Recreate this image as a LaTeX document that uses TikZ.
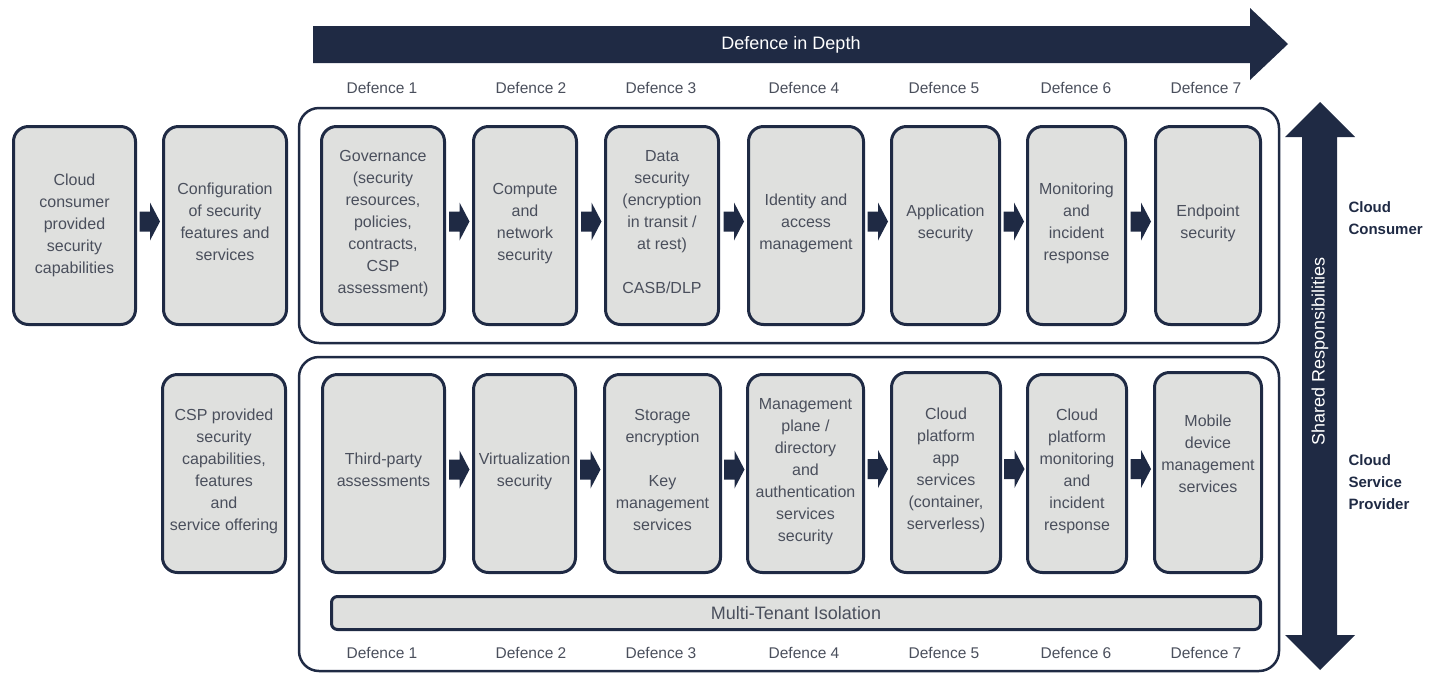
\documentclass[tikz,border=0pt]{standalone}
\usepackage{fontspec}
\setmainfont{Liberation Sans}
\usetikzlibrary{calc}
\definecolor{navy}{HTML}{1F2A44}
\definecolor{cellfill}{HTML}{DFE0DE}
\definecolor{inktext}{HTML}{4A4F5C}

% a rounded grey cell given by its outer edges (x1,x2,y1,y2) in px
\newcommand\cellbox[7][]{%
  \node[cell, minimum width={#4-#3-3}, minimum height={#6-#5-3}, #1]
    (#2) at ({(#3+#4)/2},{(#5+#6)/2}) {#7};}
% short block arrow between two neighbouring cells
\newcommand\blocklink[2]{%
  \fill[navy] let \p1=($(#1.east)!0.5!(#2.west)+(0,4pt)$) in
    (\x1-10pt,\y1+10pt) -- (\x1+0.5pt,\y1+10pt) -- (\x1+0.5pt,\y1+19pt) --
    (\x1+10.5pt,\y1) -- (\x1+0.5pt,\y1-19pt) -- (\x1+0.5pt,\y1-10pt) --
    (\x1-10pt,\y1-10pt) -- cycle;}

\begin{document}
\begin{tikzpicture}[x=1pt,y=-1pt,
  cell/.style={draw=navy, line width=3pt, fill=cellfill, rounded corners=15pt,
    inner sep=1pt, align=center, text=inktext, text depth=8pt,
    font=\fontsize{16}{22}\selectfont},
  group/.style={draw=navy, line width=2.5pt, rounded corners=20pt},
  deflabel/.style={text=inktext, font=\fontsize{15.5}{18}\selectfont},
  banner/.style={text=white, font=\fontsize{18}{22}\selectfont},
  side/.style={text=navy, align=left, anchor=west,
    font=\fontsize{15}{22}\selectfont\bfseries}]

\useasboundingbox (0,0) rectangle (1437,673);

% Defence in Depth arrow
\fill[navy] (313,26) -- (1250,26) -- (1250,8) -- (1288,44) -- (1250,80)
  -- (1250,63) -- (313,63) -- cycle;
\node[banner] (depth) at (791,45) {Defence in Depth};

% Shared responsibilities double arrow
\fill[navy] (1302,137) -- (1285,137) -- (1320,102) -- (1355,137) -- (1337,137)
  -- (1337,635) -- (1355,635) -- (1320,670) -- (1285,635) -- (1302,635) -- cycle;
\node[banner, rotate=90] (shared) at (1320,351) {Shared Responsibilities};

\node[side] (consumer) at (1345,218) {Cloud\\Consumer};
\node[side] (provider) at (1345,482) {Cloud\\Service\\Provider};

% group frames
\draw[group] (299,108) rectangle (1279,343);
\draw[group] (299,357) rectangle (1279,671);

% defence labels
\foreach \i/\x in {1/382,2/531,3/661,4/804,5/944,6/1076,7/1206}{
  \node[deflabel] (dtop\i) at (\x,88) {Defence \i};
  \node[deflabel] (dbot\i) at (\x,653) {Defence \i};
}

% consumer row
\cellbox[text depth=4pt]{c1}{12}{137}{125}{326}{Cloud\\consumer\\provided\\security\\capabilities}
\cellbox{c2}{162}{288}{125}{326}{Configuration\\of security\\features and\\services}
\cellbox{g1}{320}{446}{125}{326}{Governance\\(security\\resources,\\policies,\\contracts,\\CSP\\assessment)}
\cellbox{g2}{472}{578}{125}{326}{Compute\\and\\network\\security}
\cellbox{g3}{604}{720}{125}{326}{Data\\security\\(encryption\\in transit /\\at rest)\\[22pt]CASB/DLP}
\cellbox{g4}{747}{865}{125}{326}{Identity and\\access\\management}
\cellbox{g5}{890}{1001}{125}{326}{Application\\security}
\cellbox{g6}{1026}{1127}{125}{326}{Monitoring\\and\\incident\\response}
\cellbox{g7}{1154}{1262}{125}{326}{Endpoint\\security}

% provider row
\cellbox{p0}{161}{287}{373}{574}{CSP provided\\security\\capabilities,\\features\\and\\service offering}
\cellbox{p1}{321}{446}{373}{574}{Third-party\\assessments}
\cellbox{p2}{472}{577}{373}{574}{Virtualization\\security}
\cellbox{p3}{603}{722}{373}{574}{Storage\\encryption\\[22pt]Key\\management\\services}
\cellbox{p4}{746}{865}{373}{574}{Management\\plane /\\directory\\and\\authentication\\services\\security}
\cellbox{p5}{890}{1002}{371}{574}{Cloud\\platform\\app\\services\\(container,\\serverless)}
\cellbox{p6}{1026}{1128}{373}{574}{Cloud\\platform\\monitoring\\and\\incident\\response}
\cellbox[text depth=38pt]{p7}{1153}{1263}{371}{574}{Mobile\\device\\management\\services}

% isolation bar
\node[cell, rounded corners=6pt, minimum width=929, minimum height=33,
  text depth=0pt, font=\fontsize{18}{22}\selectfont]
  (isolation) at (796,613) {Multi-Tenant Isolation};

% flow arrows
\blocklink{c1}{c2}
\foreach \a/\b in {g1/g2,g2/g3,g3/g4,g4/g5,g5/g6,g6/g7,
                   p1/p2,p2/p3,p3/p4,p4/p5,p5/p6,p6/p7}{
  \blocklink{\a}{\b}
}
\end{tikzpicture}
\end{document}
